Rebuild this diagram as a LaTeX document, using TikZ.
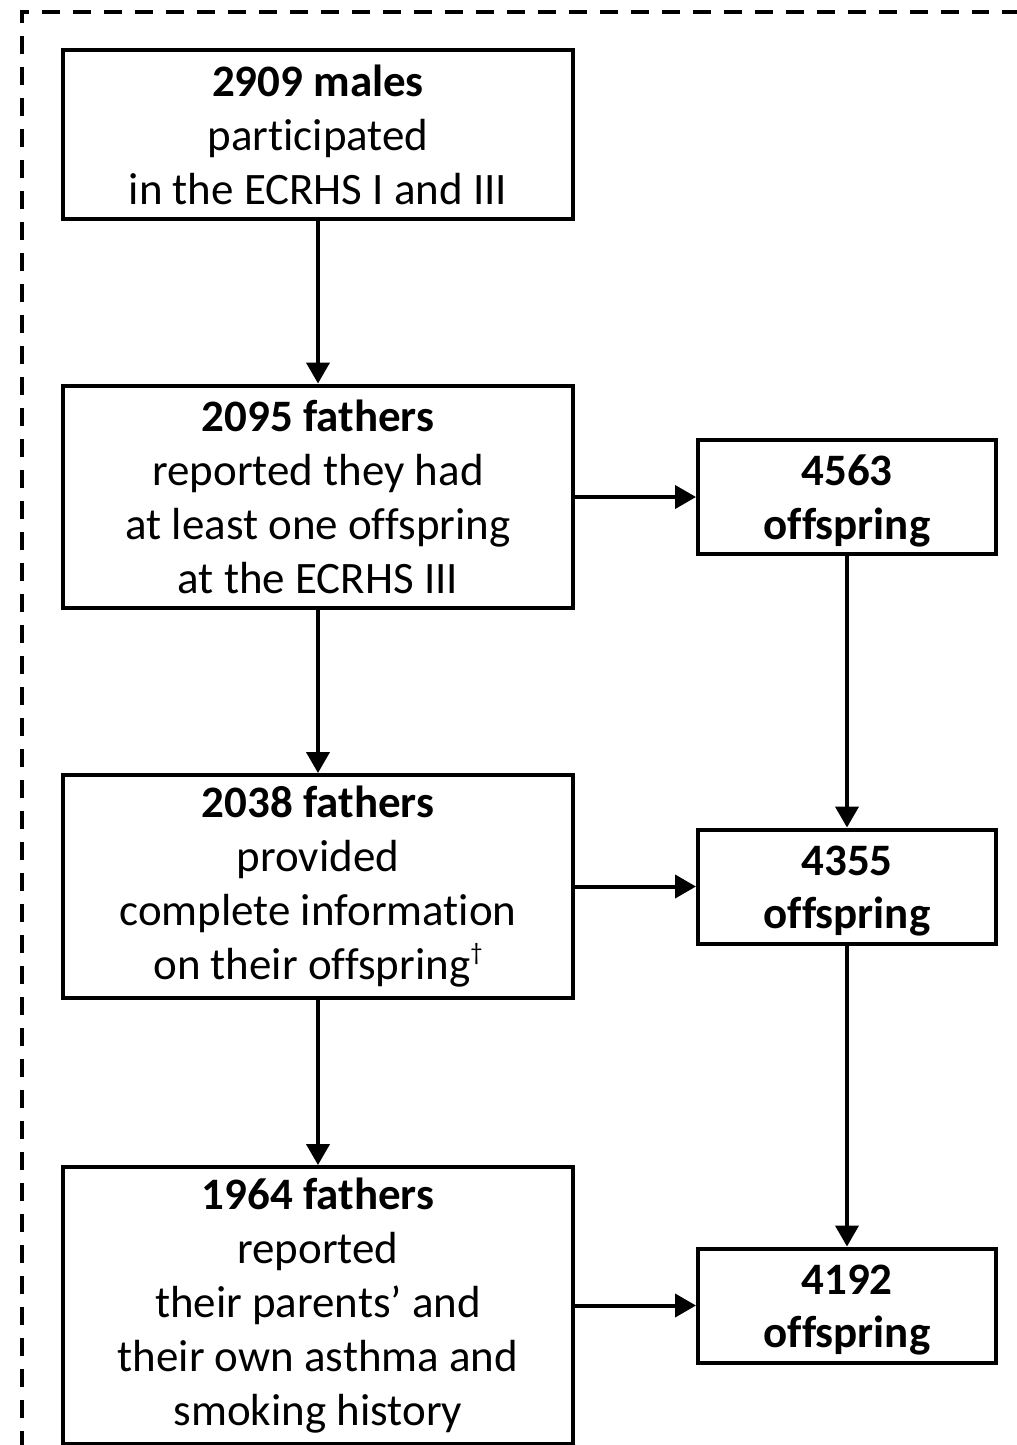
\documentclass[tikz,border=0pt]{standalone}
\usepackage{fontspec}
\setmainfont[Ligatures=NoCommon]{Carlito}
\usetikzlibrary{arrows.meta}

\tikzset{
  box/.style={draw, line width=0.08cm, align=center, inner sep=0pt,
    font=\fontsize{25.6}{30.7}\selectfont},
  mainbox/.style={box, minimum width=10.2cm},
  countbox/.style={box, minimum width=5.96cm, minimum height=2.28cm, text height=1.85cm},
  flow/.style={line width=0.08cm, -{Triangle[length=0.42cm,width=0.46cm]}},
}

\begin{document}
\begin{tikzpicture}[x=0.02cm, y=-0.02cm]

  \useasboundingbox (0,0) rectangle (1017,1445);
  \clip (0,0) rectangle (1017,1445);

  % --- dashed frame ---
  \draw[line width=0.08cm, dash pattern=on 0.36cm off 0.26cm]
    (22,1480) -- (22,12) -- (1050,12);

  % --- left column ---
  \node[mainbox, minimum height=3.38cm] (males) at (318,134.5)
    {\textbf{2909 males}\\participated\\in the ECRHS I and III};
  \node[mainbox, minimum height=4.46cm] (fathersA) at (318,497)
    {\textbf{2095 fathers}\\reported they had\\at least one offspring\\at the ECRHS III};
  \node[mainbox, minimum height=4.46cm] (fathersB) at (318,886.5)
    {\textbf{2038 fathers}\\provided\\complete information\\on their offspring\raisebox{0.42em}{\fontsize{14}{14}\selectfont †}};
  \node[mainbox, minimum height=5.54cm] (fathersC) at (318,1305.5)
    {\textbf{1964 fathers}\\reported\\their parents’ and\\their own asthma and\\smoking history};

  % --- right column ---
  \node[countbox] (offA) at (847,497) {\textbf{4563}\\\textbf{offspring}};
  \node[countbox] (offB) at (847,886.5) {\textbf{4355}\\\textbf{offspring}};
  \node[countbox] (offC) at (847,1305.5) {\textbf{4192}\\\textbf{offspring}};

  % --- arrows ---
  \draw[flow] (males) -- (fathersA);
  \draw[flow] (fathersA) -- (fathersB);
  \draw[flow] (fathersB) -- (fathersC);
  \draw[flow] (fathersA) -- (offA);
  \draw[flow] (fathersB) -- (offB);
  \draw[flow] (fathersC) -- (offC);
  \draw[flow] (offA) -- (offB);
  \draw[flow] (offB) -- (offC);

\end{tikzpicture}
\end{document}
